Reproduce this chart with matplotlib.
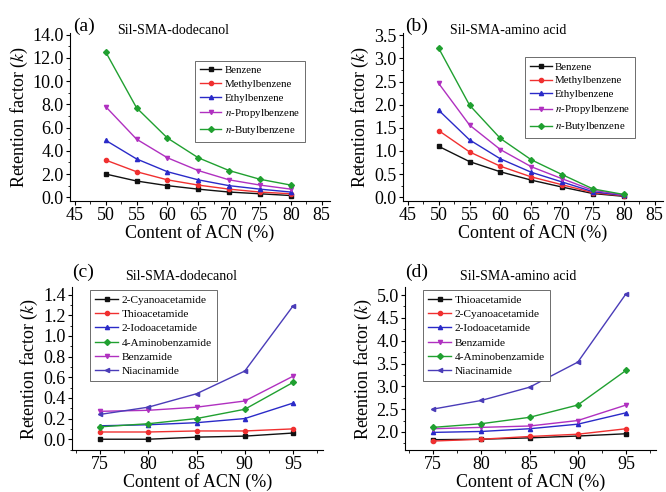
import matplotlib
matplotlib.use("Agg")
import matplotlib.pyplot as plt
from matplotlib.ticker import MultipleLocator, FormatStrFormatter

plt.rcParams['font.family'] = 'Liberation Serif'
plt.rcParams['mathtext.fontset'] = 'stix'

# top row: x = content of ACN
acn_top = [50, 55, 60, 65, 70, 75, 80]
names_top = ["Benzene", "Methylbenzene", "Ethylbenzene",
             r"$\mathit{n}$-Propylbenzene", r"$\mathit{n}$-Butylbenzene"]
k_a = [
    [2.0, 1.4, 1.0, 0.7, 0.45, 0.3, 0.15],
    [3.2, 2.2, 1.5, 1.05, 0.7, 0.45, 0.3],
    [4.9, 3.3, 2.2, 1.5, 1.0, 0.7, 0.45],
    [7.8, 5.0, 3.4, 2.3, 1.5, 1.05, 0.7],
    [12.5, 7.7, 5.1, 3.4, 2.3, 1.55, 1.05],
]
k_b = [
    [1.1, 0.77, 0.55, 0.37, 0.22, 0.08, 0.02],
    [1.44, 0.98, 0.67, 0.44, 0.27, 0.1, 0.03],
    [1.88, 1.24, 0.83, 0.54, 0.33, 0.12, 0.04],
    [2.46, 1.56, 1.03, 0.66, 0.4, 0.15, 0.05],
    [3.22, 1.99, 1.27, 0.81, 0.49, 0.18, 0.06],
]

# bottom row
acn_bot = [75, 80, 85, 90, 95]
names_c = ["2-Cyanoacetamide", "Thioacetamide", "2-Iodoacetamide",
           "4-Aminobenzamide", "Benzamide", "Niacinamide"]
k_c = [
    [0.0, 0.0, 0.02, 0.03, 0.06],
    [0.07, 0.07, 0.08, 0.08, 0.1],
    [0.13, 0.14, 0.16, 0.2, 0.35],
    [0.12, 0.15, 0.2, 0.29, 0.55],
    [0.27, 0.28, 0.31, 0.37, 0.61],
    [0.24, 0.31, 0.44, 0.66, 1.29],
]
names_d = ["Thioacetamide", "2-Cyanoacetamide", "2-Iodoacetamide",
           "Benzamide", "4-Aminobenzamide", "Niacinamide"]
k_d = [
    [1.83, 1.84, 1.87, 1.91, 1.96],
    [1.8, 1.84, 1.9, 1.95, 2.07],
    [1.99, 2.01, 2.07, 2.17, 2.42],
    [2.07, 2.1, 2.13, 2.25, 2.59],
    [2.1, 2.18, 2.32, 2.59, 3.35],
    [2.5, 2.69, 2.98, 3.53, 5.03],
]

black, red, blue, magenta, green, navy = "#111111", "#f03030", "#2a2ac8", "#b030c0", "#20a030", "#4a3cb8"
colors_top = [black, red, blue, magenta, green]
markers_top = ["s", "o", "^", "v", "D"]
colors_c = [black, red, blue, green, magenta, navy]
markers_c = ["s", "o", "^", "D", "v", "<"]
colors_d = [black, red, blue, magenta, green, navy]
markers_d = ["s", "o", "^", "v", "D", "<"]

fig = plt.figure(figsize=(6.66, 4.92), dpi=100)
ax_a = fig.add_axes([0.105, 0.591, 0.390, 0.341])
ax_b = fig.add_axes([0.605, 0.591, 0.390, 0.341])
ax_c = fig.add_axes([0.108, 0.085, 0.377, 0.331])
ax_d = fig.add_axes([0.608, 0.085, 0.377, 0.331])


def draw(ax, x, ys, names, colors, markers, legend_pos, fs):
    for y, n, c, m in zip(ys, names, colors, markers):
        ax.plot(x, y, color=c, marker=m, markersize=3.0, linewidth=1.0, label=n)
    for s in ["top", "right"]:
        ax.spines[s].set_visible(False)
    ax.tick_params(labelsize=13, direction="out", length=3, width=0.8, pad=1.5)
    ax.tick_params(which="minor", direction="out", length=1.8, width=0.6)
    ax.set_xlabel("Content of ACN (%)", fontsize=13, labelpad=0)
    ax.set_ylabel(r"Retention factor ($\mathit{k}$)", fontsize=13, labelpad=2)
    leg = ax.legend(loc="upper left", bbox_to_anchor=legend_pos, fontsize=fs,
                    handlelength=2.0, handletextpad=0.3, labelspacing=0.38,
                    borderpad=0.45, fancybox=False, framealpha=1)
    leg.get_frame().set_edgecolor("#555555")
    leg.get_frame().set_linewidth(0.6)


draw(ax_a, acn_top, k_a, names_top, colors_top, markers_top, (0.46, 0.87), 7.8)
ax_a.set_xlim(44.2, 86.3)
ax_a.set_ylim(-0.34, 14.1)
ax_a.xaxis.set_major_locator(MultipleLocator(5))
ax_a.xaxis.set_minor_locator(MultipleLocator(2.5))
ax_a.yaxis.set_major_locator(MultipleLocator(2))
ax_a.yaxis.set_minor_locator(MultipleLocator(1))
ax_a.yaxis.set_major_formatter(FormatStrFormatter("%.1f"))

draw(ax_b, acn_top, k_b, names_top, colors_top, markers_top, (0.45, 0.89), 7.8)
ax_b.set_xlim(44.2, 86.3)
ax_b.set_ylim(-0.086, 3.54)
ax_b.xaxis.set_major_locator(MultipleLocator(5))
ax_b.xaxis.set_minor_locator(MultipleLocator(2.5))
ax_b.yaxis.set_major_locator(MultipleLocator(0.5))
ax_b.yaxis.set_minor_locator(MultipleLocator(0.25))
ax_b.yaxis.set_major_formatter(FormatStrFormatter("%.1f"))

draw(ax_c, acn_bot, k_c, names_c, colors_c, markers_c, (0.05, 1.02), 8.2)
ax_c.set_xlim(72.1, 98.1)
ax_c.set_ylim(-0.106, 1.47)
ax_c.xaxis.set_major_locator(MultipleLocator(5))
ax_c.xaxis.set_minor_locator(MultipleLocator(2.5))
ax_c.yaxis.set_major_locator(MultipleLocator(0.2))
ax_c.yaxis.set_minor_locator(MultipleLocator(0.1))
ax_c.yaxis.set_major_formatter(FormatStrFormatter("%.1f"))

draw(ax_d, acn_bot, k_d, names_d, colors_d, markers_d, (0.05, 1.02), 8.2)
ax_d.set_xlim(72.1, 98.1)
ax_d.set_ylim(1.6, 5.17)
ax_d.xaxis.set_major_locator(MultipleLocator(5))
ax_d.xaxis.set_minor_locator(MultipleLocator(2.5))
ax_d.yaxis.set_major_locator(MultipleLocator(0.5))
ax_d.yaxis.set_minor_locator(MultipleLocator(0.25))
ax_d.yaxis.set_major_formatter(FormatStrFormatter("%.1f"))

# panel labels and titles (pixel positions from top-left)
W, H = 666, 492
for lab, tit, px, tx, py in [("(a)", "Sil-SMA-dodecanol", 73, 117, 26),
                             ("(b)", "Sil-SMA-amino acid", 405, 450, 26),
                             ("(c)", "Sil-SMA-dodecanol", 72, 125, 272),
                             ("(d)", "Sil-SMA-amino acid", 405, 460, 272)]:
    fig.text(px / W, 1 - py / H, lab, fontsize=14, va="center", ha="left")
    fig.text(tx / W, 1 - (py + 5) / H, tit, fontsize=10, va="center", ha="left")

fig.savefig("out.png", dpi=100)
